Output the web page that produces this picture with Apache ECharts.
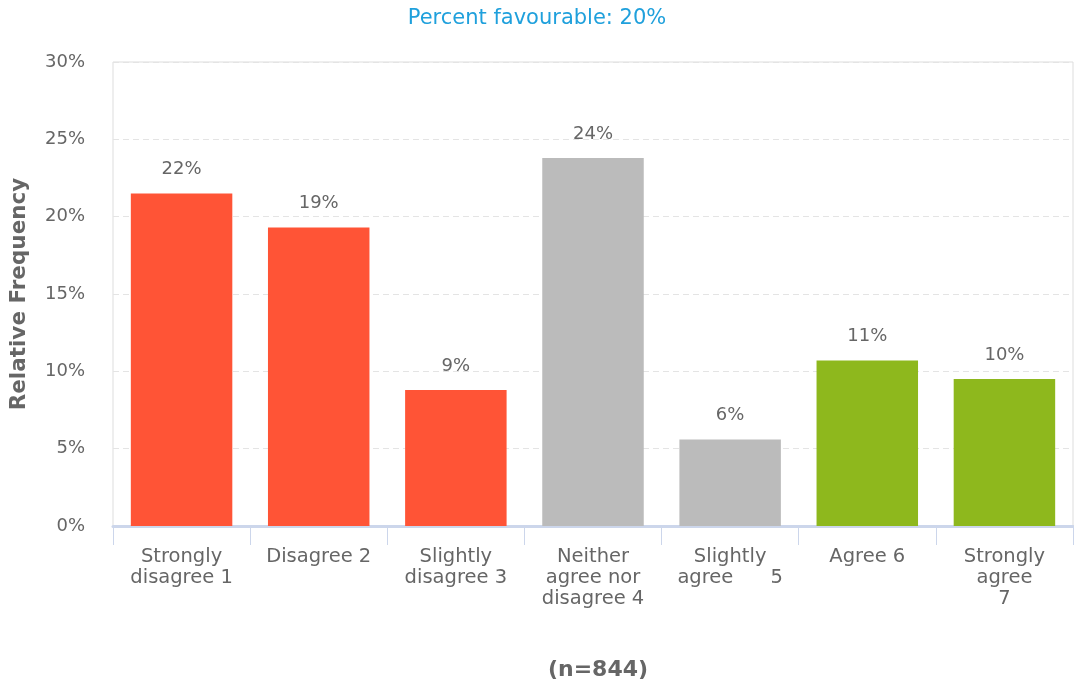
<!DOCTYPE html>
<html><head><meta charset="utf-8">
<script src="https://cdn.jsdelivr.net/npm/echarts@6/dist/echarts.min.js"></script>
<style>html,body{margin:0;padding:0;background:#fff}#c{width:1074px;height:682px}</style>
</head><body><div id="c"></div>
<script>
const categories = ["Strongly\ndisagree 1","Disagree 2","Slightly\ndisagree 3","Neither\nagree nor\ndisagree 4","Slightly\nagree      5","Agree 6","Strongly\nagree\n7"];
const values = [21.5, 19.3, 8.8, 23.8, 5.6, 10.7, 9.5];
const barColors = ["#ff5436","#ff5436","#ff5436","#bbbbbb","#bbbbbb","#8eb81d","#8eb81d"];
const yTicks = [0,5,10,15,20,25,30];
const titleText = "Percent favourable: 20%";
const footText = "(n=844)";
const FONT = "DejaVu Sans";
const chart = echarts.init(document.getElementById('c'));
chart.setOption({
  animation:false,
  textStyle:{fontFamily:FONT},
  title:[
    {text:titleText,left:'center',top:3,textStyle:{color:'#1fa0dc',fontSize:21,fontWeight:'normal',fontFamily:FONT}},
    {text:footText,left:593,textAlign:'center',top:654,textStyle:{color:'#666',fontSize:22,fontWeight:'bold',fontFamily:FONT}}
  ],
  grid:{left:113,right:1,top:62,bottom:156,show:true,borderColor:'#dddddd',borderWidth:1,outerBoundsMode:'none',containLabel:false},
  xAxis:{type:'category',data:categories,
    axisLine:{lineStyle:{color:'#ccd6eb',width:3}},
    axisTick:{show:true,length:19,lineStyle:{color:'#ccd6eb',width:1}},
    axisLabel:{color:'#666',fontSize:19.5,lineHeight:21,margin:20,interval:0,fontFamily:FONT}},
  yAxis:{type:'value',min:0,max:30,interval:5,
    name:'Relative Frequency',nameLocation:'middle',nameGap:83,nameRotate:90,
    nameTextStyle:{color:'#666',fontSize:21.5,fontWeight:'bold',fontFamily:FONT},
    axisLabel:{color:'#666',fontSize:18,margin:28,fontFamily:FONT,formatter:v=>v+'%'},
    axisLine:{show:false},axisTick:{show:false},
    splitLine:{lineStyle:{color:'#e4e4e4',type:[6,4],width:1}}},
  series:[{type:'bar',barWidth:'74%',
    data:values.map((v,i)=>({value:v,itemStyle:{color:barColors[i]}})),
    label:{show:true,position:'top',distance:15,color:'#666',fontSize:18,fontFamily:FONT,formatter:p=>Math.round(p.value)+'%'}}]
});
</script></body></html>
